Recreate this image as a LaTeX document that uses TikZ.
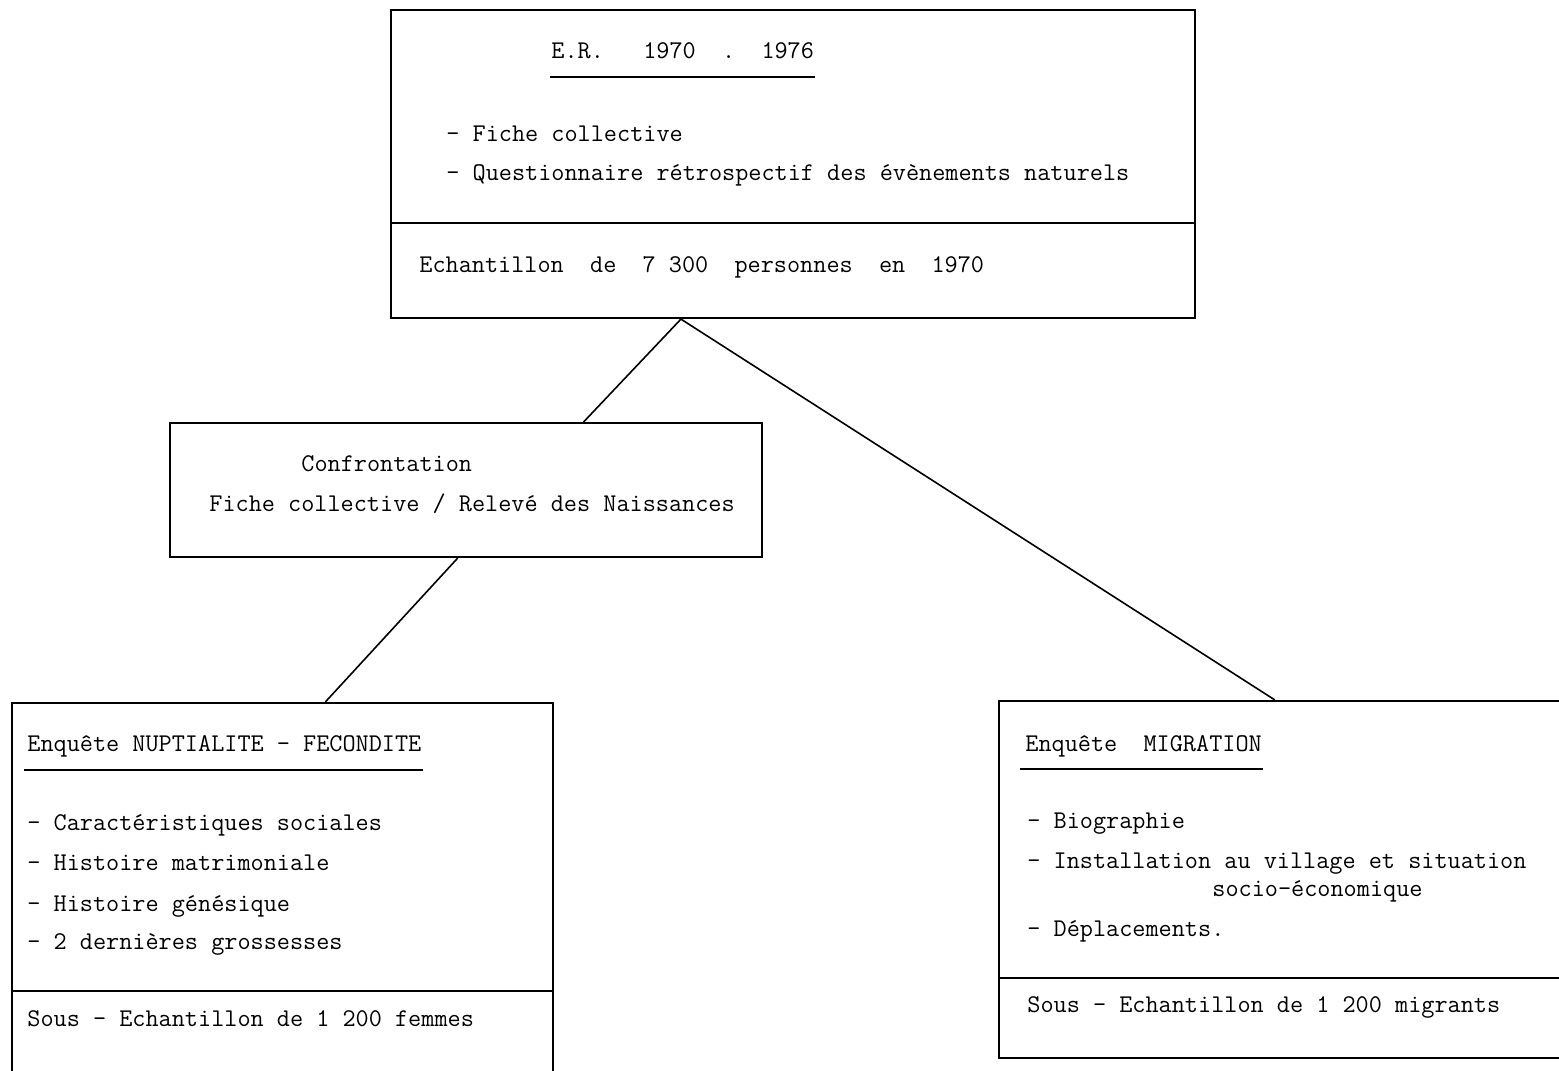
\documentclass[tikz,border=0pt]{standalone}
\usepackage{tikz}
\usepackage{xcolor}
\usetikzlibrary{calc}

\begin{document}
\begin{tikzpicture}[x=0.5pt,y=-0.5pt,
	box/.style={draw,rectangle,line width=1.1pt,inner sep=0pt},
	txt/.style={anchor=base west,inner sep=0pt,font=\fontsize{12.75}{15}\selectfont\ttfamily},
	rule/.style={line width=1.1pt},
	link/.style={line width=0.8pt}]
	\useasboundingbox (0,0) rectangle (1559,1071);

	% boxes
	\node [box,minimum width=402pt,minimum height=154pt] (er) at (793,164) {};
	\node [box,minimum width=296pt,minimum height=67pt] (conf) at (466,490) {};
	\node [box,minimum width=270.5pt,minimum height=198.5pt] (nupt) at (282.5,901.5) {};
	\node [box,minimum width=300.5pt,minimum height=178.5pt] (migr) at (1299.5,879.5) {};

	% dividers
	\draw [rule] (er.west |- 0,223) -- (er.east |- 0,223);
	\draw [rule] (nupt.west |- 0,991) -- (nupt.east |- 0,991);
	\draw [rule] (migr.west |- 0,978) -- (migr.east |- 0,978);

	% E.R. 1970-1976
	\node [txt] (erhead) at (551,58) {E.R.~~~1970~~.~~1976};
	\draw [rule] (550,77) -- (815,77);
	\node [txt] (erfiche) at (446,141) {-~Fiche collective};
	\node [txt] (erquest) at (446,180) {-~Questionnaire rétrospectif des évènements naturels};
	\node [txt] (ersample) at (419,272) {Echantillon~~de~~7 300~~personnes~~en~~1970};

	% confrontation
	\node [txt] (confhead) at (301,471) {Confrontation};
	\node [txt] (conftext) at (209,511) {Fiche collective / Relevé des Naissances};

	% nuptialite - fecondite
	\node [txt] (nupthead) at (27,751) {Enquête NUPTIALITE - FECONDITE};
	\draw [rule] (24,770) -- (423,770);
	\node [txt] (nupt1) at (27,830) {-~Caractéristiques sociales};
	\node [txt] (nupt2) at (27,870) {-~Histoire matrimoniale};
	\node [txt] (nupt3) at (27,911) {-~Histoire génésique};
	\node [txt] (nupt4) at (27,949) {-~2 dernières grossesses};
	\node [txt] (nuptsample) at (27,1026) {Sous - Echantillon de 1 200 femmes};

	% migration
	\node [txt] (migrhead) at (1025,751) {Enquête~~MIGRATION};
	\draw [rule] (1020,769) -- (1263,769);
	\node [txt] (migr1) at (1027,828) {-~Biographie};
	\node [txt] (migr2) at (1027,868) {-~Installation au village et situation};
	\node [txt] (migr2b) at (1212,896) {socio-économique};
	\node [txt] (migr3) at (1027,936) {-~Déplacements.};
	\node [txt] (migrsample) at (1027,1012) {Sous - Echantillon de 1 200 migrants};

	% connectors
	\draw [link] ($(er.south west)!0.361!(er.south east)$) -- ($(conf.north west)!0.698!(conf.north east)$);
	\draw [link] ($(er.south west)!0.361!(er.south east)$) -- ($(migr.north west)!0.459!(migr.north east)$);
	\draw [link] ($(conf.south west)!0.486!(conf.south east)$) -- ($(nupt.north west)!0.579!(nupt.north east)$);
\end{tikzpicture}
\end{document}
